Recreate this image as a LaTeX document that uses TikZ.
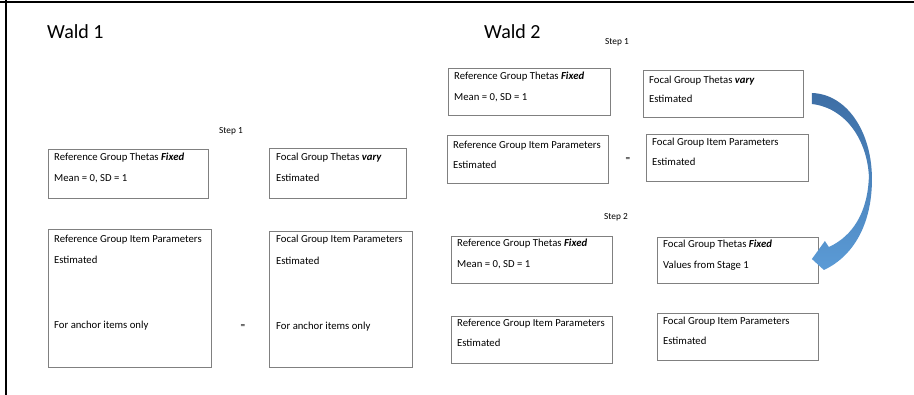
\documentclass[tikz,border=0pt]{standalone}
\usepackage{fontspec}
\setmainfont{Carlito}
\usepackage{tikz}
\usetikzlibrary{positioning}

\tikzset{
  box/.style={draw=black!50, line width=0.9pt, anchor=north west, inner sep=0pt},
  txt/.style={anchor=base west, inner sep=0pt, font=\fontsize{10.7}{12}\selectfont},
  steplabel/.style={inner sep=0pt, font=\fontsize{9.3}{10}\selectfont},
  title/.style={anchor=west, inner sep=0pt, font=\fontsize{20}{24}\selectfont}
}
\newcommand{\emphword}[1]{\textbf{\textit{#1}}}

\begin{document}
\begin{tikzpicture}[x=1pt, y=-1pt]
  \useasboundingbox (0,0) rectangle (914,395);
  % frame
  \draw[line width=2pt] (0,2) -- (914,2);
  \draw[line width=2pt] (6,0) -- (6,395);

  % Wald 1
  \node[title] (wald1) at (47,32) {Wald 1};
  \node[steplabel] (stepA) at (231,131) {Step 1};
  \node[box, minimum width=160pt, minimum height=49pt] (rt) at (48,149) {};
  \node[box, minimum width=137pt, minimum height=50pt] (ft) at (269,148) {};
  \node[box, minimum width=163pt, minimum height=138pt] (ri) at (48,229) {};
  \node[box, minimum width=143pt, minimum height=136pt] (fi) at (269,231) {};
  \node[txt] (rta) at ([shift={(6,12)}]rt.north west) {Reference Group Thetas \emphword{Fixed}};
  \node[txt] (rtb) at ([shift={(6,33)}]rt.north west) {Mean = 0, SD = 1};
  \node[txt] (fta) at ([shift={(7,13)}]ft.north west) {Focal Group Thetas \emphword{vary}};
  \node[txt] (ftb) at ([shift={(7,34)}]ft.north west) {Estimated};
  \node[txt] (ria) at ([shift={(6,14)}]ri.north west) {Reference Group Item Parameters};
  \node[txt] (rib) at ([shift={(6,35)}]ri.north west) {Estimated};
  \node[txt] (ric) at ([shift={(6,100)}]ri.north west) {For anchor items only};
  \node[txt] (fia) at ([shift={(7,12)}]fi.north west) {Focal Group Item Parameters};
  \node[txt] (fib) at ([shift={(7,34)}]fi.north west) {Estimated};
  \node[txt] (fic) at ([shift={(7,99)}]fi.north west) {For anchor items only};
  \node[steplabel] (eqA) at (243,327) {=};

  % Wald 2
  \node[title] (wald2) at (484,32) {Wald 2};
  \node[steplabel] (stepB) at (617,42) {Step 1};
  \node[steplabel] (stepC) at (616,217) {Step 2};
  \node[box, minimum width=162pt, minimum height=47pt] (r1) at (448,68) {};
  \node[box, minimum width=160pt, minimum height=47pt] (f1) at (643,70) {};
  \node[box, minimum width=161pt, minimum height=48pt] (r2) at (447,135) {};
  \node[box, minimum width=162pt, minimum height=47pt] (f2) at (646,134) {};
  \node[box, minimum width=161pt, minimum height=47pt] (r3) at (451,236) {};
  \node[box, minimum width=161pt, minimum height=46pt] (f3) at (657,237) {};
  \node[box, minimum width=161pt, minimum height=47pt] (r4) at (451,316) {};
  \node[box, minimum width=161pt, minimum height=47pt] (f4) at (657,313) {};
  \node[txt] (r1a) at ([shift={(6,12)}]r1.north west) {Reference Group Thetas \emphword{Fixed}};
  \node[txt] (r1b) at ([shift={(6,33)}]r1.north west) {Mean = 0, SD = 1};
  \node[txt] (f1a) at ([shift={(6,14)}]f1.north west) {Focal Group Thetas \emphword{vary}};
  \node[txt] (f1b) at ([shift={(6,33)}]f1.north west) {Estimated};
  \node[txt] (r2a) at ([shift={(6,14)}]r2.north west) {Reference Group Item Parameters};
  \node[txt] (r2b) at ([shift={(6,34)}]r2.north west) {Estimated};
  \node[txt] (f2a) at ([shift={(6,12)}]f2.north west) {Focal Group Item Parameters};
  \node[txt] (f2b) at ([shift={(6,32)}]f2.north west) {Estimated};
  \node[steplabel] (eqB) at (628,160) {=};
  \node[txt] (r3a) at ([shift={(6,11)}]r3.north west) {Reference Group Thetas \emphword{Fixed}};
  \node[txt] (r3b) at ([shift={(6,32)}]r3.north west) {Mean = 0, SD = 1};
  \node[txt] (f3a) at ([shift={(6,11)}]f3.north west) {Focal Group Thetas \emphword{Fixed}};
  \node[txt] (f3b) at ([shift={(6,32)}]f3.north west) {Values from Stage 1};
  \node[txt] (r4a) at ([shift={(6,11)}]r4.north west) {Reference Group Item Parameters};
  \node[txt] (r4b) at ([shift={(6,31)}]r4.north west) {Estimated};
  \node[txt] (f4a) at ([shift={(6,12)}]f4.north west) {Focal Group Item Parameters};
  \node[txt] (f4b) at ([shift={(6,32)}]f4.north west) {Estimated};

  % curved arrow from step 1 to step 2
  \begin{scope}[shift={(f1.north east)}]
    \shade[top color={rgb,255:red,61;green,110;blue,165}, bottom color={rgb,255:red,91;green,155;blue,214}]
      (8,23) .. controls (42,24) and (67,60) .. (68,106)
      .. controls (69,150) and (52,185) .. (20,200)
      -- (8,189) -- (21,171) -- (25,177)
      .. controls (49,166) and (64,142) .. (65,106)
      .. controls (63,70) and (42,38) .. (8,34) -- cycle;
  \end{scope}
\end{tikzpicture}
\end{document}
